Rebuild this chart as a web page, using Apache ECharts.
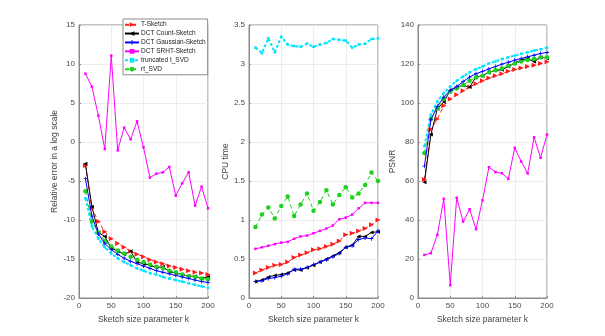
<!DOCTYPE html>
<html><head><meta charset="utf-8">
<script src="https://cdn.jsdelivr.net/npm/echarts@6/dist/echarts.min.js"></script>
<style>html,body{margin:0;padding:0;background:#fff}#c{width:605px;height:336px}</style>
</head><body><div id="c"></div>
<script>
const k = [10,20,30,40,50,60,70,80,90,100,110,120,130,140,150,160,170,180,190,200];
const names = ['T-Sketch','DCT Count-Sketch','DCT Gaussian-Sketch','DCT SRHT-Sketch','truncated t_SVD','rt_SVD'];

// Panel 1: relative error (log scale)
const errT     = [-3.0,-8.5,-10.2,-11.5,-12.4,-13.0,-13.5,-14.0,-14.4,-14.7,-15.1,-15.4,-15.6,-15.9,-16.1,-16.3,-16.5,-16.7,-16.8,-17.0];
const errCount = [-2.8,-8.3,-11.6,-12.1,-13.6,-14.0,-14.4,-14.0,-15.4,-15.6,-15.8,-16.1,-16.0,-16.6,-16.8,-17.0,-17.2,-17.2,-17.5,-17.3];
const errGauss = [-4.7,-9.5,-11.8,-13.0,-13.8,-14.4,-14.9,-15.3,-15.6,-15.9,-16.2,-16.5,-16.7,-16.9,-17.1,-17.3,-17.5,-17.7,-17.9,-18.0];
const errSRHT  = [8.76,7.1,3.38,-0.9,11.07,-1.07,1.84,0.34,2.65,-0.68,-4.57,-4.06,-3.89,-3.2,-6.88,-5.3,-3.89,-8.16,-5.73,-8.5];
const errTrunc = [-7.2,-10.8,-12.4,-13.5,-14.3,-14.9,-15.4,-15.8,-16.2,-16.5,-16.8,-17.0,-17.3,-17.5,-17.7,-17.9,-18.1,-18.3,-18.5,-18.7];
const errRt    = [-6.3,-10.2,-11.6,-12.7,-13.4,-13.9,-14.3,-14.7,-15.1,-15.4,-15.7,-16.0,-16.2,-16.5,-16.7,-17.0,-17.2,-17.3,-17.5,-17.6];

// Panel 2: CPU time
const cpuT     = [0.32,0.36,0.39,0.42,0.43,0.46,0.52,0.55,0.58,0.62,0.63,0.66,0.69,0.73,0.81,0.83,0.86,0.89,0.94,1.00];
const cpuCount = [0.21,0.23,0.27,0.29,0.30,0.32,0.36,0.36,0.39,0.42,0.46,0.50,0.54,0.58,0.65,0.68,0.79,0.79,0.84,0.85];
const cpuGauss = [0.21,0.22,0.25,0.26,0.28,0.31,0.37,0.37,0.39,0.43,0.46,0.49,0.53,0.57,0.65,0.67,0.75,0.77,0.76,0.86];
const cpuSRHT  = [0.63,0.65,0.67,0.69,0.71,0.72,0.76,0.79,0.80,0.83,0.86,0.89,0.93,1.01,1.03,1.07,1.15,1.22,1.22,1.22];
const cpuTrunc = [3.21,3.14,3.33,3.15,3.35,3.25,3.23,3.22,3.26,3.22,3.25,3.27,3.32,3.31,3.30,3.21,3.25,3.26,3.32,3.33];
const cpuRt    = [0.91,1.07,1.16,1.02,1.18,1.30,1.05,1.20,1.34,1.12,1.23,1.38,1.20,1.32,1.42,1.29,1.34,1.45,1.61,1.50];

// Panel 3: PSNR
const psT     = [60.8,86.4,91.8,98.6,102.0,104.2,106.3,108.2,109.9,111.4,112.8,114.0,115.0,116.3,117.2,118.0,118.7,119.4,120.3,121.1];
const psCount = [59.4,83.8,97.1,100.5,106.5,108.2,109.0,108.2,113.3,114.0,115.7,116.7,117.0,118.7,120.4,122.1,122.8,121.1,123.5,123.0];
const psGauss = [67.6,91.5,98.3,103.0,106.5,108.5,111.0,113.3,115.0,116.2,117.5,118.7,119.9,120.9,122.0,122.8,123.7,124.5,125.4,125.9];
const psSRHT  = [22.1,23.0,32.4,50.9,6.6,51.4,39.2,45.5,35.3,50.1,67.1,64.6,64.0,61.1,77.0,70.0,63.9,82.4,71.9,83.8];
const psTrunc = [77.8,94.0,100.8,105.1,108.5,111.4,113.6,115.7,117.4,118.7,120.3,121.3,122.5,123.5,124.3,125.2,126.0,126.9,127.6,128.4];
const psRt    = [74.4,91.8,97.4,102.0,105.8,107.5,109.2,111.4,113.1,114.0,115.8,116.8,117.7,119.1,120.3,121.3,122.1,122.6,123.3,123.5];

const FONT = 'Liberation Sans, Arial, Helvetica, sans-serif';
const styles = [
  {color:'#ff1a1a', type:[4,3], symbol:'path://M0,0L10,5L0,10Z', size:5},
  {color:'#000000', type:'solid', symbol:'path://M10,0L0,5L10,10Z', size:4},
  {color:'#0000ff', type:'solid', symbol:'path://M4,0H6V4H10V6H6V10H4V6H0V4H4Z', size:4},
  {color:'#ff00ff', type:'solid', symbol:'rect', size:2.5},
  {color:'#00e5ff', type:[3,2], symbol:'rect', size:2.5, width:2},
  {color:'#1fd11f', type:[4,3], symbol:'circle', size:4.5}
];
const panels = [
  {data:[errT,errCount,errGauss,errSRHT,errTrunc,errRt], min:-20, max:15, interval:5, name:'Relative error in a log scale', left:79},
  {data:[cpuT,cpuCount,cpuGauss,cpuSRHT,cpuTrunc,cpuRt], min:0, max:3.5, interval:0.5, name:'CPU time', left:249},
  {data:[psT,psCount,psGauss,psSRHT,psTrunc,psRt], min:0, max:140, interval:20, name:'PSNR', left:418}
];
const grid=[], xAxis=[], yAxis=[], series=[];
panels.forEach((p,i)=>{
  grid.push({left:p.left, top:25, width:129, height:273, show:true, borderColor:'#8a8a8a', borderWidth:1, backgroundColor:'#fff'});
  xAxis.push({type:'value', gridIndex:i, min:0, max:200, interval:50,
    name:'Sketch size parameter k', nameLocation:'middle', nameGap:15,
    nameTextStyle:{fontFamily:FONT, fontSize:8.5, color:'#444'},
    axisLine:{show:true, onZero:false, lineStyle:{color:'#8a8a8a'}},
    axisTick:{show:true, inside:true, length:2, lineStyle:{color:'#8a8a8a'}},
    axisLabel:{fontFamily:FONT, fontSize:8, color:'#4a4a4a', margin:4},
    splitLine:{show:true, lineStyle:{color:'#e8e8e8', width:0.8}}});
  yAxis.push({type:'value', gridIndex:i, min:p.min, max:p.max, interval:p.interval,
    name:p.name, nameLocation:'middle', nameGap:16,
    nameTextStyle:{fontFamily:FONT, fontSize:8.5, color:'#444'},
    axisLine:{show:true, onZero:false, lineStyle:{color:'#8a8a8a'}},
    axisTick:{show:true, inside:true, length:2, lineStyle:{color:'#8a8a8a'}},
    axisLabel:{fontFamily:FONT, fontSize:8, color:'#4a4a4a', margin:4},
    splitLine:{show:true, lineStyle:{color:'#e8e8e8', width:0.8}}});
  p.data.forEach((arr,j)=>{
    const s = styles[j];
    series.push({type:'line', name:names[j], xAxisIndex:i, yAxisIndex:i,
      data:k.map((x,m)=>[x,arr[m]]),
      symbol:s.symbol, symbolSize:s.size, showAllSymbol:true,
      lineStyle:{color:s.color, width:s.width||1, type:s.type},
      itemStyle:{color:s.color, borderWidth:0},
      z: j===2?5:3,
      animation:false});
  });
});
const chart = echarts.init(document.getElementById('c'), null, {renderer:'canvas'});
chart.setOption({
  animation:false,
  backgroundColor:'#fff',
  grid, xAxis, yAxis, series,
  legend:{data:names, orient:'vertical', left:123, top:19, itemWidth:14, itemHeight:6, itemGap:1.6,
    padding:[2,2,2,1], borderColor:'#8a8a8a', borderWidth:1, backgroundColor:'#fff',
    textStyle:{fontFamily:FONT, fontSize:6.5, lineHeight:7.3, color:'#222', padding:[0,0,0,-3]}, selectedMode:false}
});
</script></body></html>
